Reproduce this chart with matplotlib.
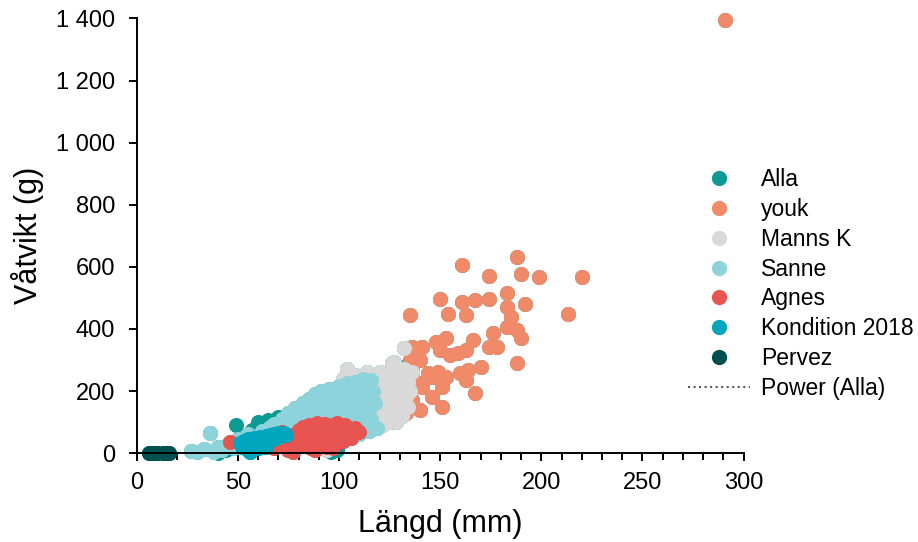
import matplotlib.pyplot as plt
from matplotlib.lines import Line2D
from matplotlib.ticker import MultipleLocator, FuncFormatter

plt.rcParams['font.family'] = ['Liberation Sans', 'DejaVu Sans']

# ---- data (mm, g) ----
youk_x = [290.7, 161, 188, 174, 190, 199, 220, 150, 161, 167, 174, 183, 192, 135, 154,
          163, 183, 185, 213, 183, 188, 190, 176, 174, 178, 166, 163, 153, 148, 141,
          136, 150, 159, 155, 188, 170, 164, 160, 149, 144, 136, 135, 140, 146, 153,
          163, 167, 151, 141, 146, 151, 140, 133, 136, 133, 138]
youk_y = [1395, 606, 632, 571, 577, 568, 568, 497, 487, 493, 497, 516, 481, 445, 448,
          445, 471, 439, 448, 407, 397, 371, 387, 342, 342, 365, 333, 371, 358, 342,
          342, 333, 323, 317, 291, 278, 268, 259, 262, 259, 268, 301, 301, 246, 246,
          236, 194, 214, 214, 181, 149, 139, 130, 172, 214, 230]

manns_x = [75, 80, 85, 91, 94, 92, 98, 104, 108, 112, 114, 116, 118, 118, 119, 120, 120,
           121, 122, 122, 123, 124, 124, 125, 126, 126, 127, 127, 128, 128, 129, 130,
           130, 131, 132, 132, 133, 134, 134, 135, 136, 110, 115, 125, 102]
manns_y = [110, 150, 140, 178, 11, 17, 200, 270, 250, 246, 260, 230, 200, 150, 110, 260,
           180, 90, 230, 140, 200, 250, 110, 170, 290, 220, 294, 130, 190, 100, 250, 160,
           215, 120, 338, 270, 180, 230, 150, 200, 260, 130, 190, 100, 240]

sanne_x = [27, 30, 33, 36, 38, 40, 42, 45, 48, 50, 52, 55, 57, 60, 62, 64, 66, 68, 70, 72,
           74, 75, 77, 78, 80, 82, 83, 85, 86, 88, 88, 90, 91, 92, 93, 94, 95, 96, 97, 98,
           99, 100, 100, 101, 102, 103, 104, 104, 105, 106, 106, 107, 108, 108, 109, 110,
           110, 111, 112, 112, 113, 114, 114, 115, 116, 116, 117, 118, 119, 96, 100, 105,
           110, 115, 85, 90, 80]
sanne_y = [8, 3, 12, 64, 5, 20, 10, 30, 15, 45, 25, 60, 35, 50, 70, 40, 85, 95, 75, 110,
           90, 130, 105, 145, 120, 160, 110, 175, 140, 190, 125, 165, 200, 145, 180, 120,
           205, 160, 100, 185, 140, 215, 170, 90, 195, 120, 225, 160, 75, 205, 140, 100,
           230, 180, 65, 215, 155, 120, 240, 195, 90, 225, 170, 140, 235, 110, 200, 160,
           80, 60, 50, 55, 60, 70, 95, 80, 70]

agnes_x = [46, 60, 62, 65, 68, 70, 72, 72, 74, 75, 76, 78, 79, 80, 81, 82, 83, 84, 85, 86,
           87, 88, 89, 90, 91, 92, 93, 94, 95, 96, 97, 98, 99, 100, 101, 102, 103, 104,
           105, 106, 108, 110, 107, 77, 88, 97]
agnes_y = [36, 28, 20, 30, 15, 45, 25, 68, 50, 10, 35, 60, 20, 75, 45, 85, 30, 60, 90, 15,
           70, 45, 98, 30, 80, 55, 95, 20, 70, 45, 90, 35, 98, 60, 80, 40, 90, 65, 75, 50,
           80, 68, 60, 5, 10, 15]

kond_x = [51, 52, 53, 54, 55, 55, 56, 57, 58, 59, 60, 61, 62, 63, 64, 65, 66, 67, 68, 69,
          70, 71, 72, 73, 74, 60, 56, 64]
kond_y = [33, 20, 40, 28, 10, 45, 35, 22, 48, 30, 40, 52, 25, 45, 55, 35, 58, 45, 62, 50,
          65, 55, 60, 65, 58, 15, 2, 20]

pervez_x = [6, 8, 10, 13, 15, 16]
pervez_y = [0, 0, 0, 0, 0, 0]

# points of "Alla" that are not covered by the other series
alla_extra_x = [49, 60, 63, 65, 68, 57, 99, 96, 130, 133, 70, 75, 44, 40]
alla_extra_y = [91, 100, 98, 107, 100, 75, 11, 5, 250, 279, 115, 120, 10, 0]

alla_x = alla_extra_x + youk_x + manns_x + sanne_x + agnes_x + kond_x + pervez_x
alla_y = alla_extra_y + youk_y + manns_y + sanne_y + agnes_y + kond_y + pervez_y

series = [
    ('Alla', alla_x, alla_y, '#0E9A94'),
    ('youk', youk_x, youk_y, '#F08A68'),
    ('Manns K', manns_x, manns_y, '#D9D9D9'),
    ('Sanne', sanne_x, sanne_y, '#8DD3DC'),
    ('Agnes', agnes_x, agnes_y, '#E85550'),
    ('Kondition 2018', kond_x, kond_y, '#00A6BE'),
    ('Pervez', pervez_x, pervez_y, '#00504F'),
]

fig = plt.figure(figsize=(9.18, 5.42), dpi=100)
ax = fig.add_axes([0.149, 0.164, 0.661, 0.802])

for name, xs, ys, col in series:
    ax.scatter(xs, ys, s=118, color=col, linewidths=0, clip_on=False, zorder=2)

ax.set_xlim(0, 300)
ax.set_ylim(0, 1400)
ax.xaxis.set_major_locator(MultipleLocator(50))
ax.xaxis.set_minor_locator(MultipleLocator(10))
ax.yaxis.set_major_locator(MultipleLocator(200))
ax.yaxis.set_major_formatter(FuncFormatter(lambda v, p: f'{int(v):,}'.replace(',', ' ')))

for s in ['top', 'right']:
    ax.spines[s].set_visible(False)
for s in ['left', 'bottom']:
    ax.spines[s].set_linewidth(1.4)
ax.tick_params(which='major', direction='out', length=6, width=1.4, labelsize=17)
ax.tick_params(axis='y', pad=9.5)
ax.tick_params(axis='x', pad=7.5)
ax.tick_params(axis='x', which='minor', direction='out', length=5, width=1.4)

ax.set_xlabel('Längd (mm)', fontsize=22, labelpad=11)
ax.set_ylabel('Våtvikt (g)', fontsize=22, labelpad=9)

handles = [Line2D([], [], linestyle='none', marker='o', markersize=11,
                  markerfacecolor=col, markeredgewidth=0) for _, _, _, col in series]
handles.append(Line2D([], [], linestyle=':', color='#595959', linewidth=1.5))
labels = [name for name, _, _, _ in series] + ['Power (Alla)']
fig.legend(handles, labels, loc='upper left', bbox_to_anchor=(0.74, 0.707),
           frameon=False, fontsize=16.5, handlelength=2.7, handletextpad=0.45,
           labelspacing=0.3, borderaxespad=0)

plt.savefig('out.png', dpi=100)
